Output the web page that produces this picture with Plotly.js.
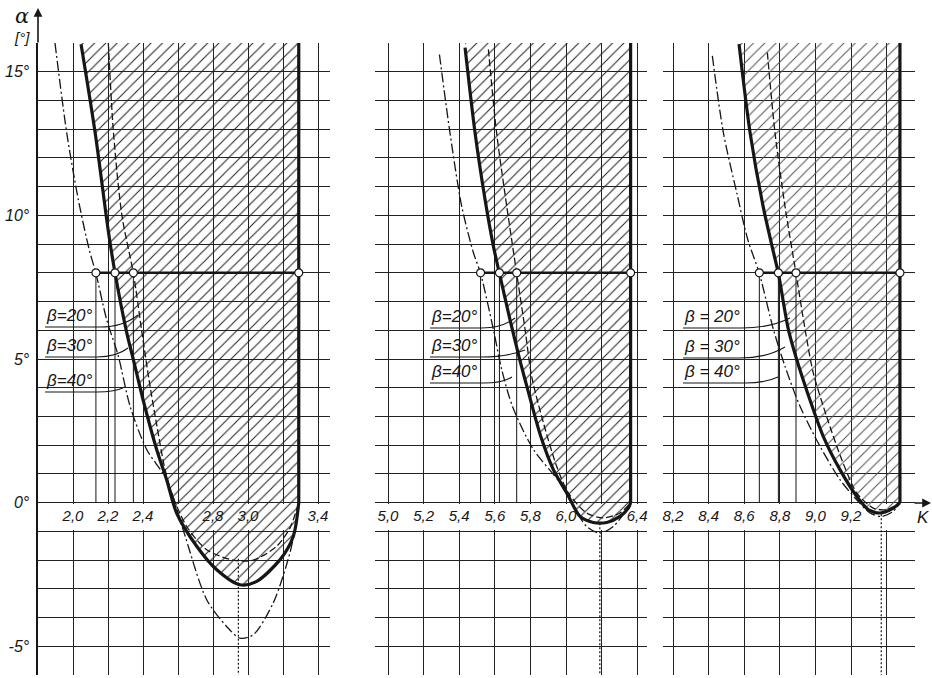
<!DOCTYPE html>
<html><head><meta charset="utf-8">
<script src="https://cdn.plot.ly/plotly-3.0.1.min.js"></script>
<style>html,body{margin:0;padding:0;background:#fff}#chart{width:932px;height:678px}</style>
</head><body><div id="chart"></div>
<script>
// ---------------- data ----------------
const alphaTicks  = [-6,-5,-4,-3,-2,-1,0,1,2,3,4,5,6,7,8,9,10,11,12,13,14,15];
const alphaLabels = ['','-5°','','','','','0°','','','','','5°','','','','','10°','','','','','15°'];

const kTicks1  = [1.8, 2.0, 2.2, 2.4, 2.6, 2.8, 3.0, 3.2, 3.4];
const kLabels1 = ['', '2,0', '2,2', '2,4', '', '2,8', '3,0', '', '3,4'];
const kTicks2  = [5.0, 5.2, 5.4, 5.6, 5.8, 6.0, 6.2, 6.4];
const kLabels2 = ['5,0','5,2','5,4','5,6','5,8','6,0','','6,4'];
const kTicks3  = [8.2, 8.4, 8.6, 8.8, 9.0, 9.2, 9.4];
const kLabels3 = ['8,2','8,4','8,6','8,8','9,0','9,2',''];

// panel 1 (K about 2 - 3.4)
const p1_b30_K = [2.046, 2.126, 2.203, 2.24, 2.307, 2.345, 2.40, 2.478, 2.535, 2.592, 2.707, 2.82, 2.954, 3.05, 3.183, 3.259, 3.29];
const p1_b30_A = [15.96, 12.9, 9.4, 8.0, 5.92, 4.98, 3.59, 1.85, 0.8, -0.36, -1.52, -2.33, -2.86, -2.74, -1.99, -1.17, 0];
const p1_b20_K = [2.202, 2.231, 2.28, 2.345, 2.394, 2.434, 2.48, 2.526, 2.571, 2.65, 2.764, 2.916, 3.03, 3.164, 3.24, 3.278, 3.29];
const p1_b20_A = [16.0, 12.9, 9.98, 7.98, 5.92, 4.29, 2.65, 1.15, 0.21, -0.83, -1.64, -2.0, -2.0, -1.52, -0.88, -0.24, 0];
const p1_b40_K = [1.897, 1.964, 2.030, 2.092, 2.131, 2.192, 2.259, 2.326, 2.421, 2.535, 2.629, 2.764, 2.878, 2.954, 3.03, 3.145, 3.24, 3.278, 3.29];
const p1_b40_A = [16.0, 12.88, 10.56, 8.82, 7.98, 6.38, 5.10, 3.36, 1.85, 0.80, -0.94, -3.38, -4.31, -4.72, -4.60, -3.48, -1.74, -0.59, 0];
const p1_kRight = 3.29;
const p1_circleK = [2.131, 2.24, 2.345, 3.29];
const p1_dotK = 2.945, p1_dotTop = -1.95;

// panel 2 (K about 5 - 6.4)
const p2_b30_K = [5.433, 5.489, 5.545, 5.592, 5.626, 5.685, 5.74, 5.79, 5.858, 5.929, 6.004, 6.079, 6.153, 6.229, 6.303, 6.35, 6.363];
const p2_b30_A = [15.84, 12.88, 10.56, 8.93, 7.98, 6.38, 4.98, 3.82, 2.31, 1.15, 0.34, -0.48, -0.69, -0.69, -0.48, -0.19, 0];
const p2_b20_K = [5.564, 5.61, 5.667, 5.723, 5.77, 5.807, 5.873, 5.948, 6.013, 6.116, 6.21, 6.303, 6.363];
const p2_b20_A = [15.78, 12.88, 10.32, 7.98, 6.03, 4.4, 2.78, 1.26, 0.34, -0.36, -0.53, -0.36, 0];
const p2_b40_K = [5.289, 5.348, 5.414, 5.48, 5.52, 5.592, 5.639, 5.70, 5.817, 5.966, 6.041, 6.116, 6.19, 6.266, 6.34, 6.363];
const p2_b40_A = [15.6, 12.88, 10.32, 8.7, 7.98, 6.03, 4.63, 3.34, 1.85, 0.69, -0.13, -0.83, -1.06, -0.83, -0.24, 0];
const p2_kRight = 6.363;
const p2_circleK = [5.52, 5.626, 5.723, 6.363];
const p2_dotK = 6.19, p2_dotTop = -0.72;

// panel 3 (K about 8.2 - 9.4)
const p3_b30_K = [8.571, 8.633, 8.706, 8.765, 8.792, 8.848, 8.895, 8.956, 9.044, 9.138, 9.232, 9.297, 9.363, 9.438, 9.475];
const p3_b30_A = [15.96, 12.88, 10.32, 8.7, 7.98, 6.03, 4.98, 3.82, 2.31, 1.15, 0.22, -0.24, -0.36, -0.19, 0];
const p3_b20_K = [8.73, 8.773, 8.829, 8.891, 8.942, 8.988, 9.063, 9.148, 9.232, 9.325, 9.4, 9.475];
const p3_b20_A = [15.67, 12.88, 10.32, 7.98, 6.03, 4.52, 3.0, 1.5, 0.34, -0.19, -0.24, 0];
const p3_b40_K = [8.421, 8.483, 8.558, 8.620, 8.685, 8.764, 8.829, 8.913, 9.026, 9.138, 9.232, 9.307, 9.372, 9.438, 9.475];
const p3_b40_A = [15.55, 12.88, 10.79, 9.16, 7.98, 6.03, 4.75, 3.36, 1.96, 0.8, 0.1, -0.36, -0.48, -0.3, 0];
const p3_kRight = 9.475;
const p3_circleK = [8.685, 8.792, 8.891, 9.475];
const p3_dotK = 9.37, p3_dotTop = -0.4;

const circleAlpha = 8;
const alphaTop = 16, alphaBottom = -6;
const stripTop = -0.05, stripBottom = -0.95;   // blank band that holds the K labels
const labels12 = ['β=20°', 'β=30°', 'β=40°'];
const labels3  = ['β = 20°', 'β = 30°', 'β = 40°'];

// ---------------- layout helpers ----------------
const W = 932, H = 678;
const px = v => v / W;
const py = v => 1 - v / H;
const INK = '#161616';
const FONT = 'Liberation Sans, Arial, sans-serif';

const xRanges = {
  x:  [1.8, 1.8 + 292 / 175],
  x2: [5 + (375 - 388) / 178, 5 + (647 - 388) / 178],
  x3: [8.2 + (663 - 673) / 178, 8.2 + (915 - 673) / 178]
};

const traces = [];
function panel(xa, b30K, b30A, b20K, b20A, b40K, b40A, kR, circK, dotK, dotTop, hatchCol) {
  const r = xRanges[xa];
  const r0 = xa === 'x' ? r[0] + 0.004 : r[0];
  // white band under the K tick labels (hides the grid there)
  traces.push({x: [r0, r[1], r[1], r0], y: [stripTop, stripTop, stripBottom, stripBottom],
    xaxis: xa, yaxis: 'y', mode: 'none', fill: 'toself', fillcolor: '#ffffff', hoverinfo: 'skip', showlegend: false});
  // hatched admissible region: inside the beta=30 curve, left of the K limit
  traces.push({x: b30K.concat([kR, b30K[0]]), y: b30A.concat([alphaTop, alphaTop]),
    xaxis: xa, yaxis: 'y', mode: 'none', fill: 'toself', fillcolor: 'rgba(0,0,0,0)',
    fillpattern: {shape: '/', size: 8, solidity: 0.13, fgcolor: hatchCol, bgcolor: 'rgba(0,0,0,0)'},
    hoverinfo: 'skip', showlegend: false});
  // drop lines from circles to K axis
  const dx = [], dy = [];
  circK.slice(0, 3).forEach(k => { dx.push(k, k, null); dy.push(circleAlpha, 0, null); });
  traces.push({x: dx, y: dy, xaxis: xa, yaxis: 'y', mode: 'lines', line: {color: INK, width: 1}, showlegend: false, hoverinfo: 'skip'});
  // dotted vertical below minimum
  traces.push({x: [dotK, dotK], y: [dotTop, alphaBottom], xaxis: xa, yaxis: 'y', mode: 'lines',
    line: {color: INK, width: 1.2, dash: '2px,2px'}, showlegend: false, hoverinfo: 'skip'});
  traces.push({x: b20K, y: b20A, xaxis: xa, yaxis: 'y', mode: 'lines', name: 'β=20°',
    line: {color: INK, width: 1.3, dash: '7px,3px', shape: 'spline', smoothing: 0.8}, showlegend: false});
  traces.push({x: b40K, y: b40A, xaxis: xa, yaxis: 'y', mode: 'lines', name: 'β=40°',
    line: {color: INK, width: 1.3, dash: '10px,3px,2px,3px', shape: 'spline', smoothing: 0.8}, showlegend: false});
  traces.push({x: b30K, y: b30A, xaxis: xa, yaxis: 'y', mode: 'lines', name: 'β=30°',
    line: {color: INK, width: 3.2, shape: 'spline', smoothing: 0.8}, showlegend: false});
  // K limit (vertical thick)
  traces.push({x: [kR, kR], y: [0, alphaTop], xaxis: xa, yaxis: 'y', mode: 'lines',
    line: {color: INK, width: 3.2}, showlegend: false, hoverinfo: 'skip'});
  // alpha = 8 line
  traces.push({x: [circK[0], circK[3]], y: [circleAlpha, circleAlpha], xaxis: xa, yaxis: 'y', mode: 'lines',
    line: {color: INK, width: 2.6}, showlegend: false, hoverinfo: 'skip'});
  traces.push({x: circK, y: circK.map(() => circleAlpha), xaxis: xa, yaxis: 'y', mode: 'markers',
    marker: {symbol: 'circle', size: 8, color: '#fff', line: {color: INK, width: 1.2}}, showlegend: false});
}
panel('x',  p1_b30_K, p1_b30_A, p1_b20_K, p1_b20_A, p1_b40_K, p1_b40_A, p1_kRight, p1_circleK, p1_dotK, p1_dotTop, '#222');
panel('x2', p2_b30_K, p2_b30_A, p2_b20_K, p2_b20_A, p2_b40_K, p2_b40_A, p2_kRight, p2_circleK, p2_dotK, p2_dotTop, '#222');
panel('x3', p3_b30_K, p3_b30_A, p3_b20_K, p3_b20_A, p3_b40_K, p3_b40_A, p3_kRight, p3_circleK, p3_dotK, p3_dotTop, '#555');

const yDom = [py(675), py(43)];
const zeroPos = yDom[0] + (0 - alphaBottom) / (alphaTop - alphaBottom) * (yDom[1] - yDom[0]);
const tickFont = {family: FONT, size: 15, color: INK, style: 'italic'};
function xax(dom, rng, tv, tt) {
  return {domain: dom, range: rng, anchor: 'free', position: zeroPos, tickmode: 'array', tickvals: tv, ticktext: tt,
    ticks: '', showgrid: true, gridcolor: '#222', gridwidth: 1, zeroline: false, showline: false,
    tickfont: tickFont, ticklabelstandoff: 2, fixedrange: true};
}

const shapes = [], annotations = [];
// labels with underline + leader lines (pixel positions)
const lab = [
  {t: labels12, x: 45, u: [327, 357, 392], ue: [100, 97, 97], tip: [[138, 315], [128, 348], [125, 387]]},
  {t: labels12, x: 430, u: [328, 357, 383], ue: [482, 482, 484], tip: [[515, 318], [525, 350], [512, 377]]},
  {t: labels3, x: 683, u: [328, 358, 383], ue: [742, 740, 745], tip: [[790, 318], [785, 347], [778, 377]]}
];
lab.forEach(g => {
  g.t.forEach((txt, i) => {
    annotations.push({text: txt, xref: 'paper', yref: 'paper', x: px(g.x), y: py(g.u[i] - 1), xanchor: 'left', yanchor: 'bottom',
      showarrow: false, borderpad: 0, font: {family: FONT, size: 17, color: INK, style: 'italic'}});
    const u = g.u[i], e = g.ue[i], tp = g.tip[i];
    shapes.push({type: 'path', xref: 'paper', yref: 'paper', layer: 'above',
      path: `M${px(g.x)},${py(u)} L${px(e)},${py(u)} Q${px((e + tp[0]) / 2 + 4)},${py(u)} ${px(tp[0])},${py(tp[1])}`,
      line: {color: INK, width: 1.1}});
  });
});

// axis titles and arrows
annotations.push({text: 'α', xref: 'paper', yref: 'paper', x: px(22), y: py(16), xanchor: 'center', yanchor: 'middle', showarrow: false,
  font: {family: 'DejaVu Serif, serif', size: 21, color: INK, style: 'italic'}});
annotations.push({text: '[°]', xref: 'paper', yref: 'paper', x: px(22), y: py(37), xanchor: 'center', yanchor: 'middle', showarrow: false,
  font: {family: FONT, size: 15, color: INK, style: 'italic'}});
annotations.push({text: '', xref: 'paper', yref: 'paper', x: px(38), y: py(8), ax: 0, ay: 36, showarrow: true,
  arrowhead: 2, arrowsize: 1.1, arrowwidth: 1.6, arrowcolor: INK});
annotations.push({text: '', xref: 'paper', yref: 'paper', x: px(931), y: py(503), ax: -18, ay: 0, showarrow: true,
  arrowhead: 2, arrowsize: 1.1, arrowwidth: 1.6, arrowcolor: INK});
annotations.push({text: 'K', xref: 'paper', yref: 'paper', x: px(923), y: py(517), xanchor: 'center', yanchor: 'middle', showarrow: false,
  font: {family: FONT, size: 17, color: INK, style: 'italic'}});

const layout = {
  width: W, height: H, margin: {l: 0, r: 0, t: 0, b: 0}, paper_bgcolor: '#fff', plot_bgcolor: '#fff',
  showlegend: false,
  xaxis:  xax([px(38), px(330)], xRanges.x, kTicks1, kLabels1),
  xaxis2: xax([px(375), px(647)], xRanges.x2, kTicks2, kLabels2),
  xaxis3: xax([px(663), px(915)], xRanges.x3, kTicks3, kLabels3),
  yaxis: {domain: yDom, range: [alphaBottom, alphaTop], anchor: 'x', tickmode: 'array', tickvals: alphaTicks,
    ticktext: alphaLabels, ticks: '', showgrid: true, gridcolor: '#222', gridwidth: 1, zeroline: false,
    showline: true, linecolor: INK, linewidth: 1.6, tickfont: {family: FONT, size: 16, color: INK, style: 'italic'},
    ticklabelstandoff: 4, fixedrange: true},
  shapes: shapes, annotations: annotations
};
Plotly.newPlot('chart', traces, layout, {staticPlot: true, displayModeBar: false});
</script>
</body></html>
